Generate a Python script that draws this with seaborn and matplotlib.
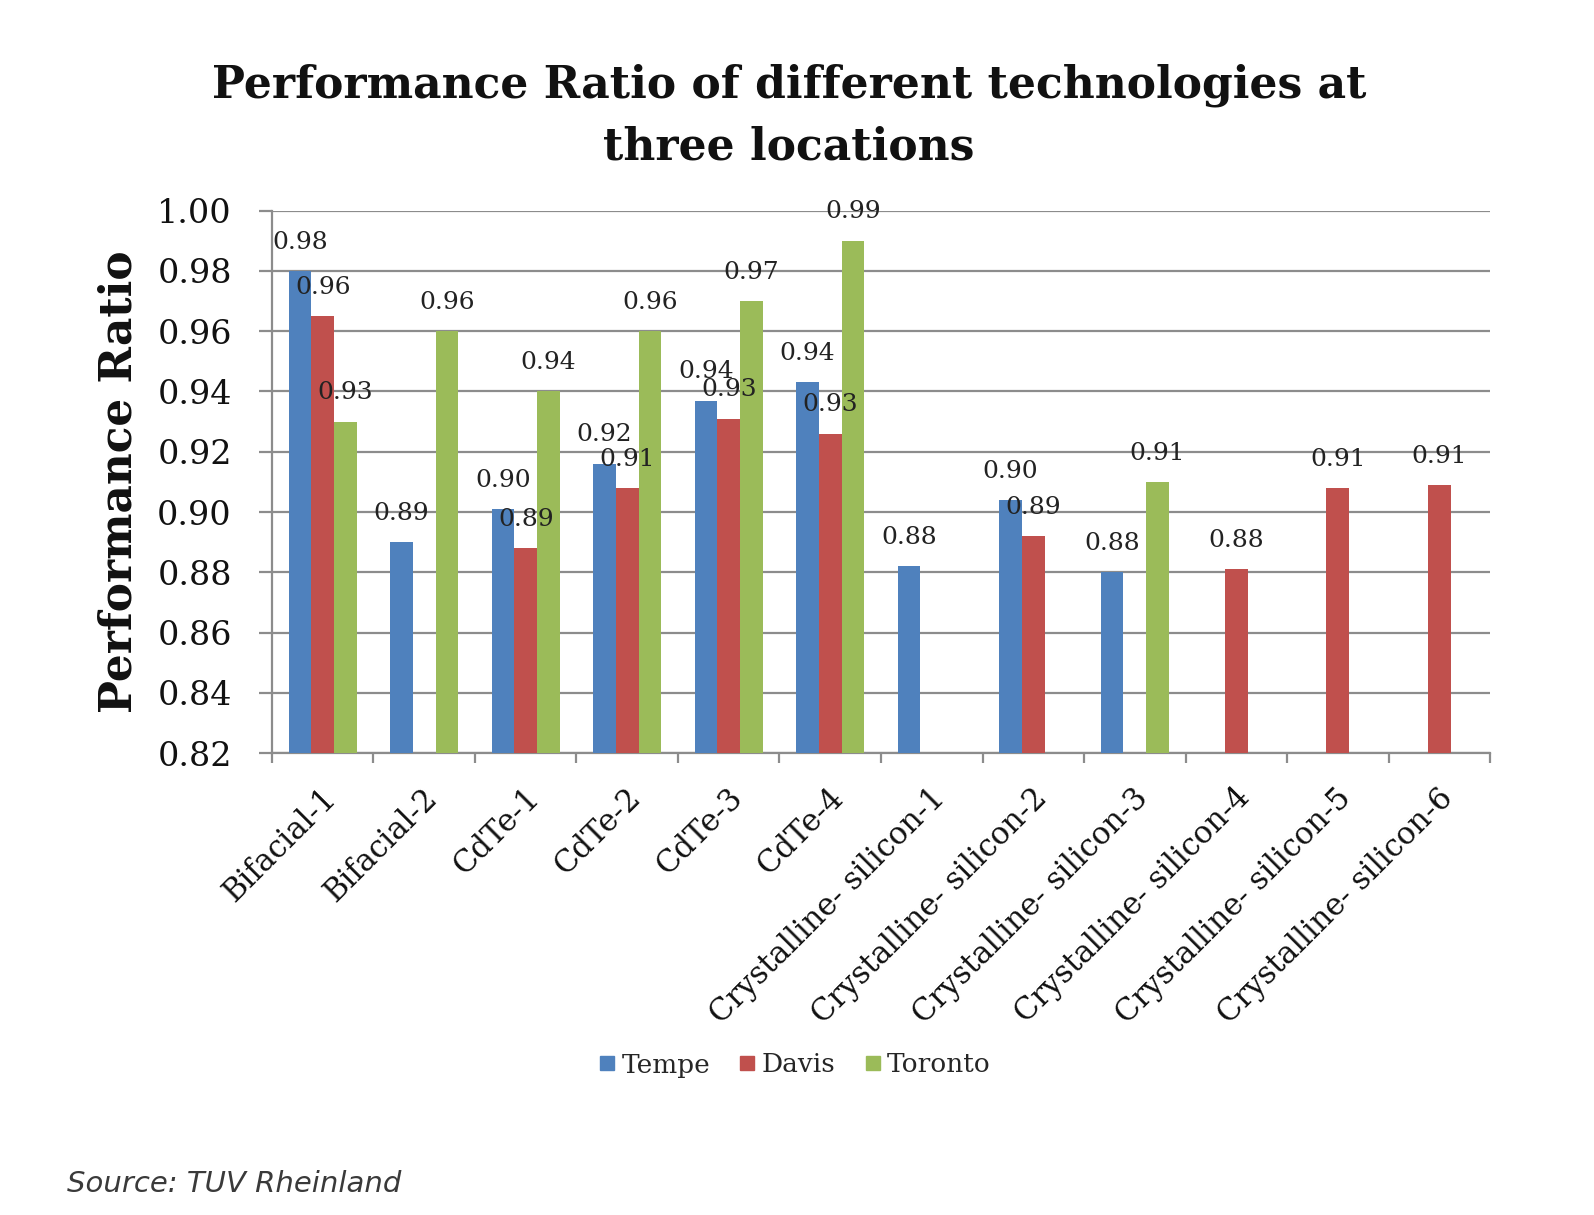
import matplotlib
matplotlib.use("Agg")
import matplotlib.pyplot as plt
import matplotlib.transforms as mtransforms
from matplotlib.lines import Line2D
import seaborn as sns
import pandas as pd
import numpy as np

# categories and series (NaN = no bar)
technologies = ["Bifacial-1", "Bifacial-2", "CdTe-1", "CdTe-2", "CdTe-3", "CdTe-4",
                "Crystalline- silicon-1", "Crystalline- silicon-2", "Crystalline- silicon-3",
                "Crystalline- silicon-4", "Crystalline- silicon-5", "Crystalline- silicon-6"]
tempe = [0.980, 0.890, 0.901, 0.916, 0.937, 0.943, 0.882, 0.904, 0.880, np.nan, np.nan, np.nan]
davis = [0.965, np.nan, 0.888, 0.908, 0.931, 0.926, np.nan, 0.892, np.nan, 0.881, 0.908, 0.909]
toronto = [0.930, 0.960, 0.940, 0.960, 0.970, 0.990, np.nan, np.nan, 0.910, np.nan, np.nan, np.nan]
locations = ["Tempe", "Davis", "Toronto"]
colors = ["#4F81BD", "#C0504D", "#9BBB59"]
yticks = [0.82, 0.84, 0.86, 0.88, 0.90, 0.92, 0.94, 0.96, 0.98, 1.00]

df = pd.DataFrame({
    "tech": technologies * 3,
    "ratio": tempe + davis + toronto,
    "loc": [l for l in locations for _ in technologies],
})

sns.set_style("white")
plt.rcParams["font.family"] = ["DejaVu Serif"]

fig = plt.figure(figsize=(15.94, 12.15), dpi=100)
ax = fig.add_axes([0.1706, 0.3802, 0.7642, 0.4464])

grid_col = "#8c8c8c"
sns.barplot(data=df, x="tech", y="ratio", hue="loc", order=technologies,
            hue_order=locations, palette=colors, width=0.67, saturation=1,
            errorbar=None, legend=False, ax=ax, zorder=3, linewidth=0)

for cont in ax.containers:
    ax.bar_label(cont, fmt="%.2f", padding=12.5, fontsize=18, color="#222222", zorder=4)

ax.set_ylim(0.82, 1.00)
ax.set_xlim(-0.5, len(technologies) - 0.5)
ax.set_yticks(yticks)
ax.set_yticklabels([f"{v:.2f}" for v in yticks], fontsize=24, color="#111111")
ax.yaxis.grid(True, color=grid_col, linewidth=1.6, zorder=0)
ax.set_axisbelow(True)

for side in ["top", "right"]:
    ax.spines[side].set_visible(False)
for side in ["left", "bottom"]:
    ax.spines[side].set_color(grid_col)
    ax.spines[side].set_linewidth(1.6)

ax.tick_params(axis="y", which="major", length=9.4, width=1.6, color=grid_col,
               direction="out", pad=19.5, left=True)
# category boundary ticks on x, labels at centres
ax.set_xticks(np.arange(-0.5, len(technologies)), minor=True)
ax.tick_params(axis="x", which="minor", length=7, width=1.6, color=grid_col,
               direction="out", bottom=True)
ax.tick_params(axis="x", which="major", length=0, pad=21)
ax.set_xticks(range(len(technologies)))
ax.set_xticklabels(technologies, rotation=45, ha="right", va="top",
                   rotation_mode="anchor", fontsize=22, color="#111111")
shift = mtransforms.ScaledTranslation(-2 / 100, 0, fig.dpi_scale_trans)
for lbl in ax.get_xticklabels():
    lbl.set_transform(lbl.get_transform() + shift)

ax.set_xlabel("")
ax.set_ylabel("Performance Ratio", fontsize=31.6, fontweight="bold", color="#111111")
ax.yaxis.set_label_coords(-0.108, 0.5)

fig.text(789 / 1594, 0.9042, "Performance Ratio of different technologies at\nthree locations",
         ha="center", va="center", fontsize=31.7, fontweight="bold", linespacing=1.545,
         color="#111111")

handles = [Line2D([], [], marker="s", linestyle="none", markersize=10,
                  markerfacecolor=c, markeredgecolor=c) for c in colors]
fig.legend(handles, locations, loc="center", bbox_to_anchor=(795 / 1594, 1 - 1065 / 1215),
           ncol=3, frameon=False, fontsize=19, handlelength=0.6, handletextpad=0.25,
           columnspacing=1.1)

fig.text(67 / 1594, 1 - 1184 / 1215, "Source: TUV Rheinland", ha="left", va="center",
         fontsize=21, style="italic", family="DejaVu Sans", color="#3a3a3a")

fig.savefig("out.png", dpi=100, facecolor="white")
